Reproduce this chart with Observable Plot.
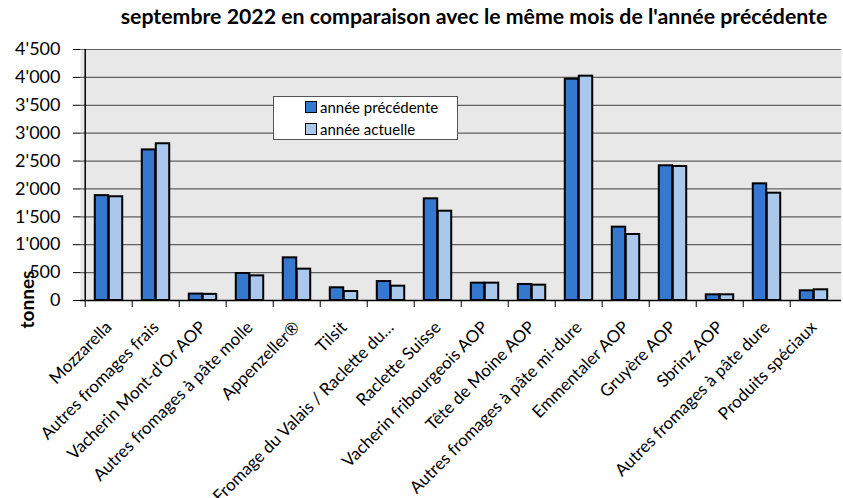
<!DOCTYPE html>
<html><head><meta charset="utf-8">
<script src="https://cdn.jsdelivr.net/npm/d3@7"></script>
<script src="https://cdn.jsdelivr.net/npm/@observablehq/plot@0.6"></script>
<style>
body{margin:0;background:#fff;font-family:Lato,sans-serif;}
#wrap{position:relative;width:843px;height:498px;overflow:hidden;background:#fff;}
#title{position:absolute;left:74px;top:3px;width:800px;text-align:center;font-weight:bold;font-size:21.3px;line-height:26px;white-space:nowrap;}
#chart{position:absolute;left:0;top:30px;}
#legend{position:absolute;left:273px;top:96px;width:185px;height:44px;background:#fff;border:1px solid #555;box-sizing:border-box;}
.item{position:absolute;left:31px;display:flex;align-items:center;font-size:15px;white-space:nowrap;}
.sw{width:10px;height:10px;border:1.5px solid #000;margin-right:3px;}
</style></head><body>
<div id="wrap">
  <div id="title"></div>
  <div id="chart"></div>
  <div id="legend"></div>
</div>
<script>
const titleText = "septembre 2022 en comparaison avec le même mois de l'année précédente";
const yLabel = "tonnes";
const categories = [
  "Mozzarella", "Autres fromages frais", "Vacherin Mont-d'Or AOP", "Autres fromages à pâte molle",
  "Appenzeller®", "Tilsit", "Fromage du Valais / Raclette du…", "Raclette Suisse",
  "Vacherin fribourgeois AOP", "Tête de Moine AOP", "Autres fromages à pâte mi-dure", "Emmentaler AOP",
  "Gruyère AOP", "Sbrinz AOP", "Autres fromages à pâte dure", "Produits spéciaux"
];
const prevYear = [1880, 2700, 115, 484, 765, 228, 340, 1823, 311, 287, 3968, 1315, 2415, 102, 2092, 174];
const currYear = [1860, 2810, 110, 442, 562, 161, 257, 1601, 311, 275, 4022, 1183, 2403, 102, 1924, 192];
const seriesNames = ["année précédente", "année actuelle"];
const seriesColors = ["#3478D0", "#A9C8EC"];
const yTicks = [0, 500, 1000, 1500, 2000, 2500, 3000, 3500, 4000, 4500];

const data = categories.flatMap((c, i) => [
  {cat: c, series: seriesNames[0], value: prevYear[i]},
  {cat: c, series: seriesNames[1], value: currYear[i]}
]);

const W = 843, H = 468, mL = 80, mR = 2, mT = 19, mB = 198;
const step = (W - mL - mR) / categories.length;
const barW = 14;
const outer = (step - 2 * barW) / 2;
const fmt = d3.formatLocale({thousands: "'", grouping: [3], decimal: ".", currency: ["", ""]}).format(",");

document.getElementById("title").textContent = titleText;

const chart = Plot.plot({
  width: W, height: H,
  marginLeft: mL, marginRight: mR, marginTop: mT, marginBottom: mB,
  style: {fontFamily: "Lato, sans-serif", color: "black", background: "white", overflow: "visible"},
  x: {domain: categories, padding: 0, axis: null},
  y: {domain: [0, 4500], axis: null},
  color: {domain: seriesNames, range: seriesColors},
  marks: [
    Plot.frame({fill: "#E8E8E8", stroke: null}),
    Plot.gridY(yTicks, {stroke: "#606060", strokeOpacity: 1, strokeWidth: 1.2}),
    Plot.barY(data.filter(d => d.series === seriesNames[0]), {x: "cat", y: "value", fill: "series", stroke: "black", strokeWidth: 2, insetLeft: outer, insetRight: outer + barW}),
    Plot.barY(data.filter(d => d.series === seriesNames[1]), {x: "cat", y: "value", fill: "series", stroke: "black", strokeWidth: 2, insetLeft: outer + barW, insetRight: outer}),
    Plot.axisY({ticks: yTicks, tickSize: 7, tickPadding: 13, tickFormat: fmt, fontSize: 18, label: null}),
    Plot.axisX({tickSize: 7, tickFormat: () => "", dx: -step / 2, label: null}),
    Plot.axisX({tickSize: 0, tickPadding: 24, tickRotate: -45, fontSize: 17, label: null}),
    Plot.ruleY([0], {stroke: "black", strokeWidth: 1.5}),
    Plot.ruleX([categories[0]], {y1: 0, y2: 4500, dx: -step / 2, stroke: "black", strokeWidth: 1.5}),
    Plot.text([yLabel], {frameAnchor: "bottom-left", dx: -47, dy: -1, rotate: -90, text: d => d, fontWeight: "bold", fontSize: 19, textAnchor: "middle"})
  ]
});
document.getElementById("chart").appendChild(chart);

const legend = document.getElementById("legend");
seriesNames.forEach((s, i) => {
  const it = document.createElement("div");
  it.className = "item";
  it.style.top = (i === 0 ? 1 : 23) + "px";
  const sw = document.createElement("span");
  sw.className = "sw";
  sw.style.background = seriesColors[i];
  it.appendChild(sw);
  it.appendChild(document.createTextNode(s));
  legend.appendChild(it);
});
</script>
</body></html>
